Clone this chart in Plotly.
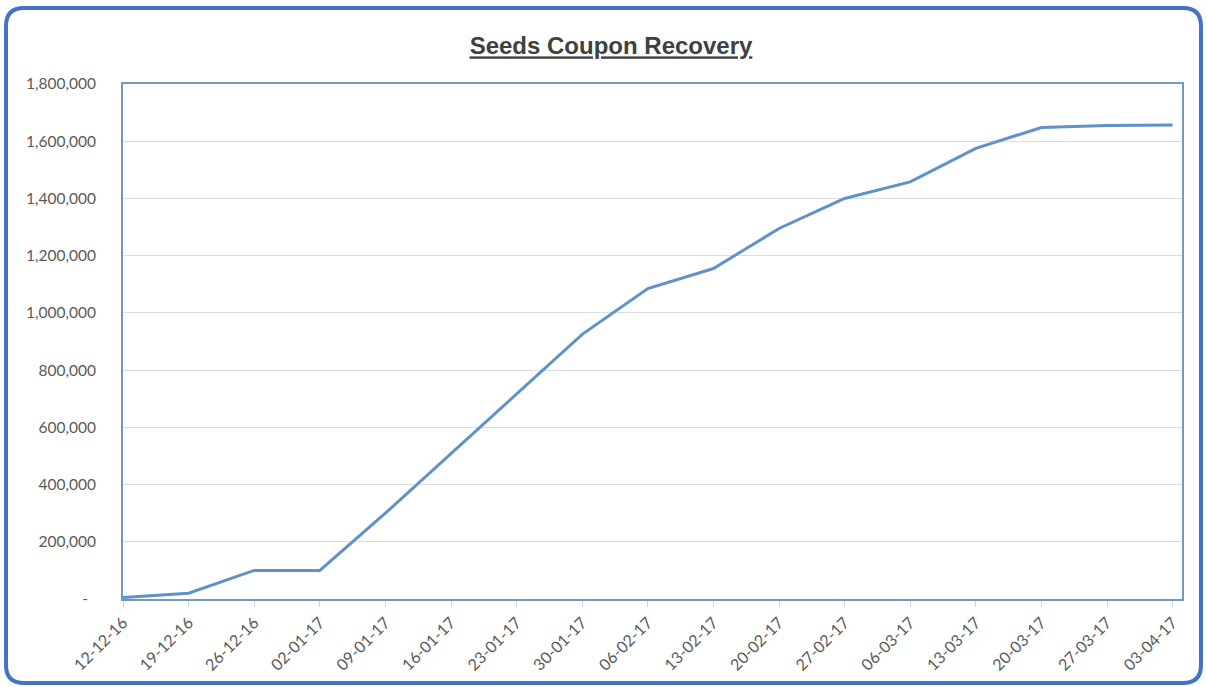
import plotly.graph_objects as go

# ---- data ----
dates = ["2016-12-12", "2016-12-19", "2016-12-26", "2017-01-02", "2017-01-09",
         "2017-01-16", "2017-01-23", "2017-01-30", "2017-02-06", "2017-02-13",
         "2017-02-20", "2017-02-27", "2017-03-06", "2017-03-13", "2017-03-20",
         "2017-03-27", "2017-04-03"]
recovery = [5000, 20000, 100000, 100000, 300000,
            508000, 715000, 925000, 1085000, 1155000,
            1295000, 1400000, 1458000, 1575000, 1648000,
            1655000, 1657000]
y_tickvals = [0, 200000, 400000, 600000, 800000, 1000000, 1200000, 1400000, 1600000, 1800000]
y_ticktext = ["-\u00a0\u00a0", "200,000", "400,000", "600,000", "800,000", "1,000,000",
              "1,200,000", "1,400,000", "1,600,000", "1,800,000"]
title_text = "Seeds Coupon Recovery"

W, H = 1206, 687
L, R, T, B = 123, 24, 84, 88
PW, PH = W - L - R, H - T - B


def px(x):
    return (x - L) / PW


def py(y):
    return (H - B - y) / PH


fig = go.Figure()
fig.add_trace(go.Scatter(
    x=dates, y=recovery, mode="lines",
    line=dict(color="#5e92c8", width=3),
    showlegend=False, hoverinfo="skip"))

# rounded outer border
x0, x1, y0, y1, r = 6, 1201, 8, 683, 18
path = (f"M {px(x0 + r)},{py(y0)} L {px(x1 - r)},{py(y0)} "
        f"Q {px(x1)},{py(y0)} {px(x1)},{py(y0 + r)} "
        f"L {px(x1)},{py(y1 - r)} Q {px(x1)},{py(y1)} {px(x1 - r)},{py(y1)} "
        f"L {px(x0 + r)},{py(y1)} Q {px(x0)},{py(y1)} {px(x0)},{py(y1 - r)} "
        f"L {px(x0)},{py(y0 + r)} Q {px(x0)},{py(y0)} {px(x0 + r)},{py(y0)} Z")

fig.update_layout(
    width=W, height=H,
    margin=dict(l=L, r=R, t=T, b=B),
    paper_bgcolor="white", plot_bgcolor="white",
    title=dict(text=title_text, x=611 / W, xref="container", xanchor="center",
               y=1 - 46 / H, yref="container", yanchor="middle",
               font=dict(family="Liberation Sans, Arial, sans-serif",
                         size=24, color="#404040", weight="bold", lineposition="under")),
    shapes=[dict(type="path", xref="paper", yref="paper", path=path,
                 line=dict(color="#4472c4", width=4), layer="above")],
    xaxis=dict(
        type="date", range=["2016-12-12", "2017-04-04"],
        tick0="2016-12-12", dtick=7 * 24 * 3600 * 1000, tickformat="%d-%m-%y",
        tickangle=-45, ticks="outside", ticklen=6, tickcolor="#c8d4e0",
        showgrid=False, showline=True, linecolor="#7399bf", linewidth=2, mirror=True,
        tickfont=dict(family="Lato, Open Sans, sans-serif", size=16, color="#595959"),
        zeroline=False),
    yaxis=dict(
        range=[0, 1800000], tickvals=y_tickvals, ticktext=y_ticktext,
        showgrid=True, gridcolor="#dcdcdc", gridwidth=1,
        showline=True, linecolor="#7399bf", linewidth=2, mirror=True,
        ticks="", ticklabelstandoff=22,
        tickfont=dict(family="Lato, Open Sans, sans-serif", size=15.5, color="#595959"),
        zeroline=False),
)

fig.write_html("out.html")
